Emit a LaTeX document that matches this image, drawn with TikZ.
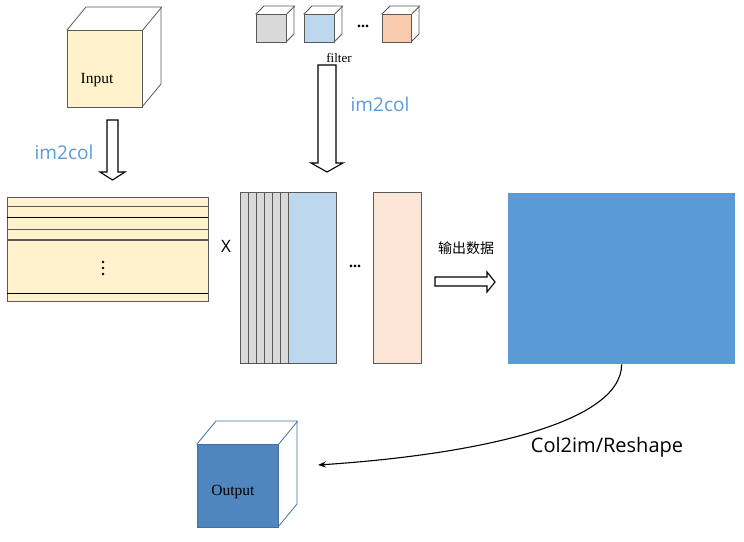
\documentclass[tikz,border=0pt]{standalone}
\usepackage{fontspec}
\setmainfont{Liberation Serif}
\newfontfamily\uisans{Open Sans}
\newfontfamily\cjk{Noto Sans CJK SC}
\usepackage{tikz}
\usetikzlibrary{arrows.meta}
\definecolor{inputfill}{RGB}{255,242,204}
\definecolor{edgegray}{RGB}{89,89,89}
\definecolor{filtgray}{RGB}{217,217,217}
\definecolor{filtblue}{RGB}{189,215,238}
\definecolor{filtorange}{RGB}{248,203,173}
\definecolor{colorange}{RGB}{251,229,214}
\definecolor{outblue}{RGB}{91,155,213}
\definecolor{cubeblue}{RGB}{79,134,189}
\definecolor{cubeedge}{RGB}{65,113,156}
\definecolor{labelblue}{RGB}{91,155,213}

% cube: name, x, y (front top-left), width, height, dx, dy, fill, edge
\newcommand{\drawcube}[9]{%
  \draw[#9, fill=white, line width=0.8pt] (#2,#3) -- ++(#6,#7) -- ++(#4,0) -- ++(0,#5) -- ++(-#6,-#7) -- cycle;
  \node[draw=#9, fill=#8, line width=0.8pt, minimum width=#4pt, minimum height=#5pt, inner sep=0pt, anchor=north west] (#1) at (#2,#3) {};
  \draw[#9, line width=0.8pt] (#1.north east) -- ++(#6,#7);
}

\tikzset{
  hollow/.style={draw=black, fill=white, line width=1.1pt, line join=miter},
  blocklbl/.style={font=\uisans\fontsize{19}{19}\selectfont, text=labelblue},
  celltxt/.style={font=\fontsize{15.5}{15.5}\selectfont},
  dotstxt/.style={font=\bfseries\fontsize{16}{16}\selectfont},
}

\begin{document}
\begin{tikzpicture}[x=1pt, y=-1pt, >=Stealth]
    \useasboundingbox (0,0) rectangle (744,541);

    % Input cube
    \drawcube{incube}{67}{30}{75}{77}{19}{-23}{inputfill}{edgegray}
    \node[celltxt] (inlbl) at (97,80) {Input};

    % filters
    \drawcube{filtA}{256}{14}{30}{28}{8}{-8}{filtgray}{edgegray}
    \drawcube{filtB}{304}{14}{30}{28}{8}{-8}{filtblue}{edgegray}
    \drawcube{filtC}{382}{14}{29}{28}{8}{-8}{filtorange}{edgegray}
    \node[dotstxt] (filtdots) at (363,26) {...};
    \node[font=\fontsize{13}{13}\selectfont] (filtlbl) at (339,58) {filter};

    % im2col arrows
    \draw[hollow] (107,120) -- (118,120) -- (118,172) -- (125,172) -- (112.5,180) -- (100,172) -- (107,172) -- cycle;
    \node[blocklbl] (im2colA) at (64,152) {im2col};
    \draw[hollow] (318,65) -- (336,65) -- (336,163) -- (343,163) -- (327,172) -- (311,163) -- (318,163) -- cycle;
    \node[blocklbl] (im2colB) at (380,104) {im2col};

    % unfolded input
    \node[draw=edgegray, fill=inputfill, line width=0.8pt, minimum width=201pt, minimum height=104pt, inner sep=0pt, anchor=north west] (patches) at (7,197) {};
    \draw[edgegray, line width=0.8pt] (7,206) -- (208,206);
    \draw[black, line width=0.8pt] (7,217) -- (208,217);
    \draw[edgegray, line width=0.8pt] (7,229) -- (208,229);
    \draw[edgegray, line width=1.2pt] (7,240) -- (208,240);
    \draw[black, line width=0.8pt] (7,293) -- (208,293);
    \foreach \yy in {262,268,274}
        \fill (103,\yy) circle (1.4pt);

    \node[font=\uisans\fontsize{17}{17}\selectfont] (times) at (226,246) {X};

    % unfolded filters
    \foreach \i in {0,...,5}
        \draw[edgegray, fill=filtgray, line width=0.8pt] (240+8*\i,192) rectangle ++(8,171);
    \node[draw=edgegray, fill=filtblue, line width=0.8pt, minimum width=48pt, minimum height=171pt, inner sep=0pt, anchor=north west] (colB) at (288,192) {};
    \node[dotstxt] (coldots) at (355,266) {...};
    \node[draw=edgegray, fill=colorange, line width=0.8pt, minimum width=48pt, minimum height=171pt, inner sep=0pt, anchor=north west] (colC) at (373,192) {};

    % output data
    \node[font=\cjk\fontsize{14}{14}\selectfont] (outtxt) at (466,248) {输出数据};
    \draw[hollow] (435,277) -- (487,277) -- (487,272) -- (495,282) -- (487,292) -- (487,286) -- (435,286) -- cycle;
    \node[fill=outblue, minimum width=227pt, minimum height=171pt, inner sep=0pt, anchor=north west] (result) at (508,193) {};

    % Output cube
    \drawcube{outcube}{197}{444}{81}{83}{19}{-23}{cubeblue}{cubeedge}
    \node[celltxt] (outlbl) at (233,492) {Output};

    % reshape
    \coordinate (reshapeEnd) at (318,465);
    \draw[->, line width=1.1pt] (result.south) .. controls (621,425) and (470,455) .. (reshapeEnd);
    \node[font=\uisans\fontsize{20}{20}\selectfont] (reshapelbl) at (607,447) {Col2im/Reshape};
\end{tikzpicture}
\end{document}
